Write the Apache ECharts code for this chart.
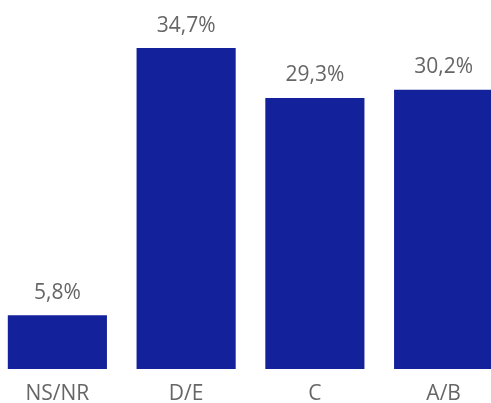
<!DOCTYPE html>
<html>
<head>
<meta charset="utf-8">
<script src="https://cdn.jsdelivr.net/npm/echarts@6/dist/echarts.min.js"></script>
<style>
  html, body { margin: 0; padding: 0; background: #fff; }
  #chart { width: 491px; height: 403px; }
</style>
</head>
<body>
<div id="chart"></div>
<script>
// categories and values (percent)
var categories = ['NS/NR', 'D/E', 'C', 'A/B'];
var values = [5.8, 34.7, 29.3, 30.2];

var myChart = echarts.init(document.getElementById('chart'));
var option = {
    animation: false,
    grid: { left: -7, right: -17, top: -1, bottom: 34, containLabel: false, outerBoundsMode: 'none' },
    xAxis: {
        type: 'category',
        data: categories,
        axisLine: { show: false },
        axisTick: { show: false },
        axisLabel: {
            color: '#666',
            fontSize: 21,
            fontFamily: 'Open Sans',
            margin: 15
        }
    },
    yAxis: {
        type: 'value',
        min: 0,
        max: 40,
        show: false,
        splitLine: { show: false }
    },
    series: [{
        type: 'bar',
        data: values,
        barCategoryGap: '23%',
        itemStyle: { color: '#13229A' },
        label: {
            show: true,
            position: 'top',
            distance: 12,
            color: '#666',
            fontSize: 21,
            fontFamily: 'Open Sans',
            formatter: function (p) {
                return p.value.toFixed(1).replace('.', ',') + '%';
            }
        }
    }]
};
myChart.setOption(option);
</script>
</body>
</html>
